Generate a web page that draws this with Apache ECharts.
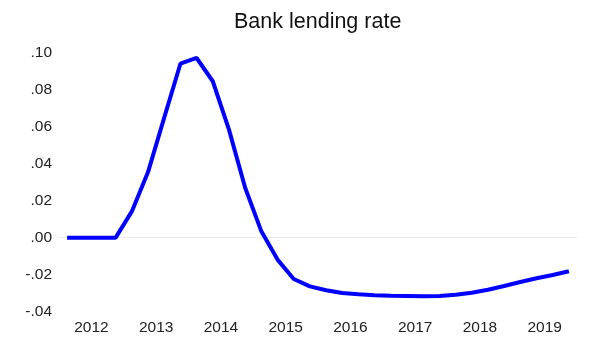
<!DOCTYPE html>
<html>
<head>
    <meta charset="utf-8">
    <title>Bank lending rate</title>
    <script src="https://cdn.jsdelivr.net/npm/echarts@6/dist/echarts.min.js"></script>
</head>
<body style="margin:0;background:#fff;">
    <div id="main" style="width: 591px;height:339px;"></div>
    <script type="text/javascript">
        // quarterly data, 2012q1 - 2019q4
        var years = ['2012', '2013', '2014', '2015', '2016', '2017', '2018', '2019'];
        var quarters = [];
        years.forEach(function (y) {
            for (var q = 1; q <= 4; q++) quarters.push(y + 'q' + q);
        });
        var rate = [
            0, 0, 0, 0,
            0.0142, 0.0355, 0.065, 0.0942,
            0.0973, 0.0847, 0.0585, 0.027,
            0.0034, -0.0119, -0.0224, -0.0264,
            -0.0285, -0.0300, -0.0307, -0.0312,
            -0.0315, -0.0316, -0.0317, -0.0316,
            -0.0309, -0.0298, -0.0282, -0.0262,
            -0.0240, -0.0220, -0.0202, -0.0182
        ];

        var myChart = echarts.init(document.getElementById('main'));
        var font = '"Liberation Sans", Arial, sans-serif';
        var none = 'rgba(0,0,0,0)';
        var option = {
            backgroundColor: '#fff',
            animation: false,
            title: {
                text: 'Bank lending rate',
                left: 229,
                top: 6,
                textStyle: { fontFamily: font, fontSize: 21.5, fontWeight: 'normal', color: '#111' }
            },
            grid: { left: 59, right: 14, top: 53, bottom: 27.5 },
            xAxis: [{
                type: 'category',
                data: quarters,
                boundaryGap: true,
                show: false
            }, {
                type: 'category',
                data: years,
                boundaryGap: true,
                position: 'bottom',
                axisLine: { show: false },
                axisTick: { show: false },
                axisLabel: { margin: 8, fontFamily: font, fontSize: 15.5, color: '#222' }
            }],
            yAxis: {
                type: 'value',
                min: -0.04,
                max: 0.10,
                interval: 0.02,
                axisLine: { show: false },
                axisTick: { show: false },
                // only the zero line is drawn
                splitLine: {
                    show: true,
                    lineStyle: { color: [none, none, '#ebebeb', none, none, none, none, none], width: 1 }
                },
                axisLabel: {
                    margin: 7,
                    fontFamily: font,
                    fontSize: 15.5,
                    color: '#222',
                    formatter: function (v) {
                        return v.toFixed(2).replace('0.', '.');
                    }
                }
            },
            series: [{
                type: 'line',
                xAxisIndex: 0,
                data: rate,
                showSymbol: false,
                lineStyle: { color: '#0000ff', width: 4 },
                itemStyle: { color: '#0000ff' },
                z: 3
            }]
        };
        myChart.setOption(option);
    </script>
</body>
</html>
